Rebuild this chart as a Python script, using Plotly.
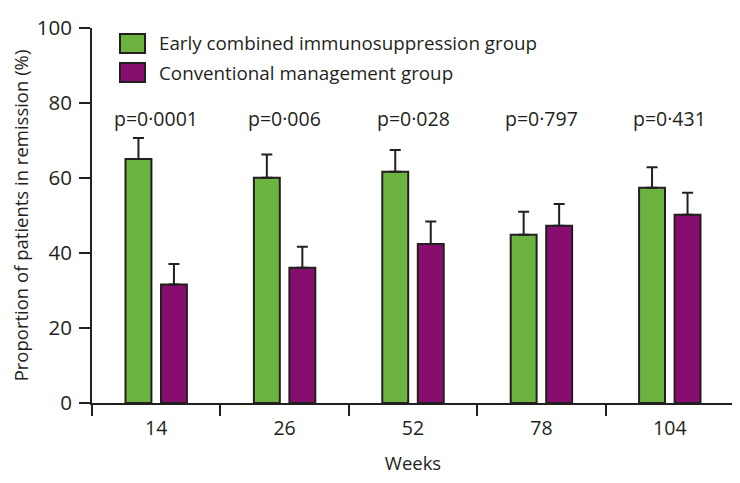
import plotly.graph_objects as go

weeks = ["14", "26", "52", "78", "104"]
early_vals = [65.1, 60.1, 61.7, 44.9, 57.4]
early_err = [5.6, 6.2, 5.8, 6.1, 5.5]
conv_vals = [31.6, 36.1, 42.4, 47.3, 50.2]
conv_err = [5.5, 5.6, 6.0, 5.8, 5.9]
p_labels = ["p=0·0001", "p=0·006", "p=0·028", "p=0·797", "p=0·431"]
series_names = ["Early combined immunosuppression group", "Conventional management group"]

GREEN = "#6cb33f"
PURPLE = "#870e6e"
DARK = "#231f20"
FONT = "Open Sans"

fig = go.Figure()
for name, vals, errs, col in [
    (series_names[0], early_vals, early_err, GREEN),
    (series_names[1], conv_vals, conv_err, PURPLE),
]:
    fig.add_trace(go.Bar(
        x=weeks, y=vals, name=name,
        marker=dict(color=col, line=dict(color=DARK, width=2)),
        error_y=dict(type="data", array=errs, arrayminus=[0] * len(errs),
                     symmetric=False, color=DARK, thickness=2, width=5.5),
        showlegend=False,
    ))

for i, p in enumerate(p_labels):
    fig.add_annotation(x=i, y=76, text=p, showarrow=False, xanchor="center",
                       yanchor="middle", font=dict(family=FONT, size=19.5, color=DARK))

# manual legend
leg_rows = [(series_names[0], GREEN, 0.9587), (series_names[1], PURPLE, 0.8813)]
for name, col, yc in leg_rows:
    fig.add_shape(type="rect", xref="paper", yref="paper",
                  x0=0.0436, x1=0.0826, y0=yc - 0.0253, y1=yc + 0.0253,
                  fillcolor=col, line=dict(color=DARK, width=2))
    fig.add_annotation(xref="paper", yref="paper", x=0.101, y=yc, text=name,
                       showarrow=False, xanchor="left", yanchor="middle",
                       font=dict(family=FONT, size=18.8, color=DARK))

# page body has an 8px margin; margins compensate so the plot area lands in place
fig.update_layout(
    width=740, height=483,
    margin=dict(l=84, r=14, t=20, b=88),
    paper_bgcolor="white", plot_bgcolor="white",
    barmode="group", bargap=0.447, bargroupgap=0.27,
    font=dict(family=FONT, size=18, color=DARK),
)
fig.update_xaxes(
    type="category", range=[-0.5, 4.5], tickson="boundaries", ticks="outside", ticklen=11,
    tickwidth=2, tickcolor=DARK, showline=True, linecolor=DARK, linewidth=2,
    showgrid=False, zeroline=False, tickangle=0, ticklabelstandoff=7, automargin=False,
    title=dict(text="Weeks", font=dict(family=FONT, size=18.5, color=DARK), standoff=17),
    tickfont=dict(family=FONT, size=19.5, color=DARK),
)
fig.update_yaxes(
    range=[0, 100], tickvals=[0, 20, 40, 60, 80, 100], ticks="outside",
    ticklen=11, tickwidth=2, tickcolor=DARK, showline=True, linecolor=DARK,
    linewidth=2, showgrid=False, zeroline=False, ticklabelstandoff=3, automargin=False,
    title=dict(text="Proportion of patients in remission (%)",
               font=dict(family=FONT, size=18.5, color=DARK), standoff=6),
    tickfont=dict(family=FONT, size=20.5, color=DARK),
)

fig.write_html("out.html")
